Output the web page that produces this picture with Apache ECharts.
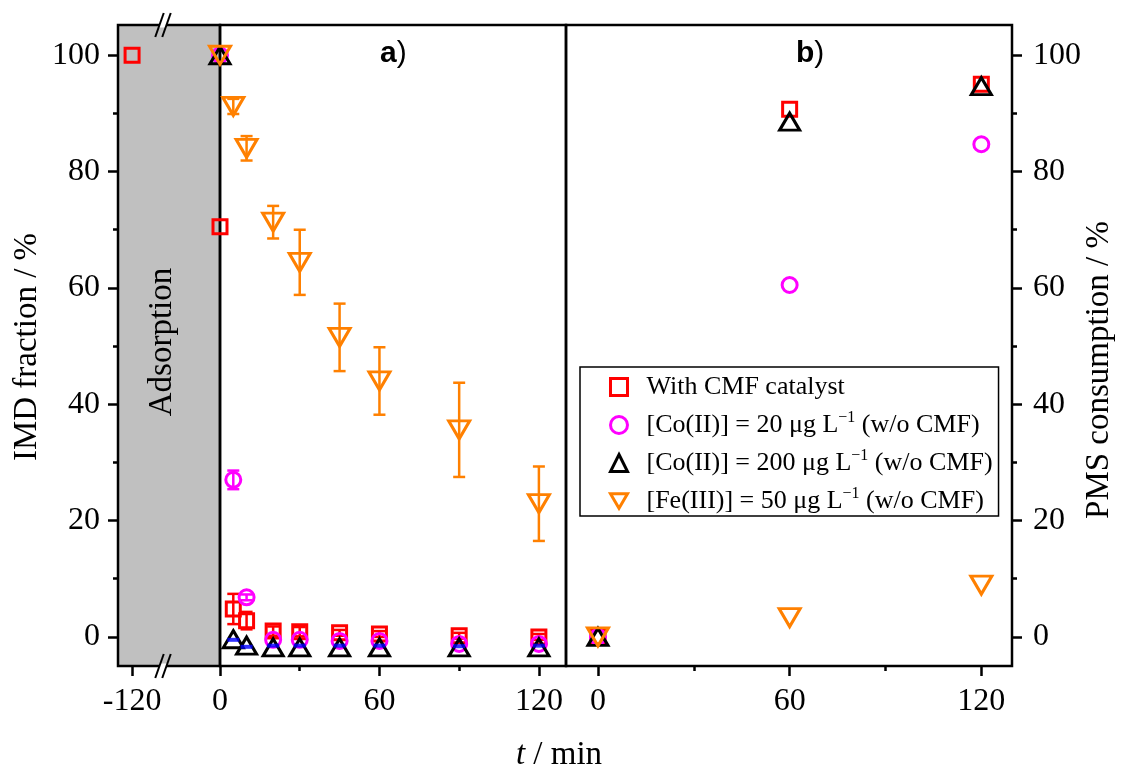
<!DOCTYPE html>
<html>
<head>
<meta charset="utf-8">
<script src="https://cdn.jsdelivr.net/npm/echarts@6/dist/echarts.min.js"></script>
<style>
  html, body { margin: 0; padding: 0; background: #ffffff; }
  #chart { width: 1123px; height: 772px; }
</style>
</head>
<body>
<div id="chart"></div>
<script>
// ---- time axes (min) ----
const adsorptionTime = [-120];
const reactionTime = [0, 5, 10, 20, 30, 45, 60, 90, 120];
const pmsTime = [0, 60, 120];

// ---- a) IMD fraction (%) ----
const cmfAdsorption = [100];
const cmfImd      = [70.5, 4.8, 2.8, 1.0, 0.9, 0.7, 0.5, 0.2, 0.0];
const cmfImdErr   = [0, 2.6, 1.5, 0.8, 0.8, 0.5, 0.5, 0.5, 0.5];
const co20Imd     = [100, 27.0, 6.8, -0.5, -0.5, -0.7, -0.7, -1.2, -1.2];
const co20ImdErr  = [0, 1.6, 0.5, 0, 0, 0, 0, 0, 0];
const co200Imd    = [100, -0.4, -1.5, -1.8, -1.8, -1.8, -1.8, -1.8, -1.8];
const fe50Imd     = [100, 91.2, 84.0, 71.3, 64.4, 51.5, 44.0, 35.6, 22.9];
const fe50ImdErr  = [0, 1.3, 2.1, 2.8, 5.6, 5.8, 5.8, 8.1, 6.4];
const blankTime   = [5, 10, 20, 30, 45, 60, 90, 120];
const blankImd    = [-0.5, -1.7, -1.5, -1.5, -1.5, -1.5, -1.6, -1.5];

// ---- b) PMS consumption (%) ----
const cmfPms   = [0, 90.7, 95.0];
const co20Pms  = [0, 60.5, 84.7];
const co200Pms = [0, 88.6, 94.7];
const fe50Pms  = [0, 3.3, 8.9];

// ---- ticks ----
const yTicks = [0, 20, 40, 60, 80, 100];
const yMinorTicks = [10, 30, 50, 70, 90];
const xTicks = [0, 60, 120];
const xMinorTicks = [30, 90];
const adsorptionTicks = [-120];

// ---- legend ----
const seriesNames = [
  'With CMF catalyst',
  '[Co(II)] = 20 μg L-1 (w/o CMF)',
  '[Co(II)] = 200 μg L-1 (w/o CMF)',
  '[Fe(III)] = 50 μg L-1 (w/o CMF)'
];
const legendLabels = [
  'With CMF catalyst',
  '[Co(II)] = 20 μg L{sup|\u22121} (w/o CMF)',
  '[Co(II)] = 200 μg L{sup|\u22121} (w/o CMF)',
  '[Fe(III)] = 50 μg L{sup|\u22121} (w/o CMF)'
];

const SERIF = 'Liberation Serif';
const SANS = 'Liberation Sans';
const AXW = 2.5;
const Y_MIN = -5, Y_MAX = 105.2;

const markers = [
  { symbol: 'rect', size: 14, rotate: 0, color: '#ff0000' },
  { symbol: 'circle', size: 15, rotate: 0, color: '#ff00ff' },
  { symbol: 'triangle', size: [20, 17], rotate: 0, color: '#000000' },
  { symbol: 'triangle', size: [21, 18], rotate: 180, color: '#ff8000', legendIcon: 'path://M0,0 L20,0 L10,17 Z' }
];

function zip(xs, ys) { return xs.map((x, i) => [x, ys[i]]); }
function errData(xs, ys, es) {
  return xs.map((x, i) => [x, ys[i] - es[i], ys[i] + es[i]]).filter((d, i) => es[i] > 0);
}

function scatter(k, xi, yi, data) {
  const m = markers[k];
  return {
    type: 'scatter', name: seriesNames[k], xAxisIndex: xi, yAxisIndex: yi, data,
    symbol: m.symbol, symbolSize: m.size, symbolRotate: m.rotate, clip: false, silent: true,
    itemStyle: { color: 'rgba(0,0,0,0)', borderColor: m.color, borderWidth: 3, opacity: 1 },
    emphasis: { disabled: true }
  };
}

function errorBars(color, data) {
  return {
    type: 'custom', xAxisIndex: 1, yAxisIndex: 2, data, clip: false, silent: true,
    encode: { x: 0, y: [1, 2] },
    renderItem(params, api) {
      const x = api.value(0);
      const lo = api.coord([x, api.value(1)]);
      const hi = api.coord([x, api.value(2)]);
      const cap = 6;
      const st = () => ({ stroke: color, lineWidth: 2.5 });
      return {
        type: 'group',
        children: [
          { type: 'line', shape: { x1: lo[0], y1: lo[1], x2: hi[0], y2: hi[1] }, style: st() },
          { type: 'line', shape: { x1: hi[0] - cap, y1: hi[1], x2: hi[0] + cap, y2: hi[1] }, style: st() },
          { type: 'line', shape: { x1: lo[0] - cap, y1: lo[1], x2: lo[0] + cap, y2: lo[1] }, style: st() }
        ]
      };
    }
  };
}

const labelStyle = { fontFamily: SERIF, fontSize: 32, color: '#000' };

function xAxis(grid, min, max, ticks, len, labels) {
  return {
    type: 'value', gridIndex: grid, min, max, position: 'bottom',
    axisLine: { show: false, onZero: false },
    splitLine: { show: false },
    axisTick: { show: true, customValues: ticks, length: len, inside: false, lineStyle: { color: '#000', width: AXW } },
    axisLabel: labels ? Object.assign({ show: true, customValues: ticks, margin: 20 }, labelStyle) : { show: false }
  };
}
function yAxis(grid, pos, ticks, len, labels, margin) {
  return {
    type: 'value', gridIndex: grid, min: Y_MIN, max: Y_MAX, position: pos,
    axisLine: { show: false, onZero: false },
    splitLine: { show: false },
    axisTick: ticks ? { show: true, customValues: ticks, length: len, lineStyle: { color: '#000', width: AXW } } : { show: false },
    axisLabel: labels ? Object.assign({ show: true, customValues: ticks, margin }, labelStyle) : { show: false }
  };
}

// break marks "//" on the top and bottom frame lines
function breakMarks(cy) {
  const k = 8.5 / 24, cx = [159.5, 166.5], h = 12;
  const els = [{
    type: 'polygon', z: 100, silent: true,
    shape: { points: [[cx[0] + 2.5 * k, cy - 2.5], [cx[1] + 2.5 * k, cy - 2.5], [cx[1] - 2.5 * k, cy + 2.5], [cx[0] - 2.5 * k, cy + 2.5]] },
    style: { fill: '#ffffff' }
  }];
  cx.forEach(c => els.push({
    type: 'line', z: 101, silent: true,
    shape: { x1: c - h * k, y1: cy + h, x2: c + h * k, y2: cy - h },
    style: { stroke: '#000', lineWidth: 2 }
  }));
  return els;
}

const gridBase = { show: true, top: 25, height: 641, borderColor: '#000', borderWidth: AXW, containLabel: false };

const series = [
  scatter(0, 0, 0, zip(adsorptionTime, cmfAdsorption)),
  errorBars('#ff0000', errData(reactionTime, cmfImd, cmfImdErr)),
  scatter(0, 1, 2, zip(reactionTime, cmfImd)),
  errorBars('#ff00ff', errData(reactionTime, co20Imd, co20ImdErr)),
  scatter(1, 1, 2, zip(reactionTime, co20Imd)),
  scatter(2, 1, 2, zip(reactionTime, co200Imd)),
  errorBars('#ff8000', errData(reactionTime, fe50Imd, fe50ImdErr)),
  scatter(3, 1, 2, zip(reactionTime, fe50Imd)),
  {
    type: 'scatter', name: 'blank', xAxisIndex: 1, yAxisIndex: 2, data: zip(blankTime, blankImd),
    symbol: 'rect', symbolSize: [12, 4], itemStyle: { color: '#0000ff' }, silent: true, clip: false
  },
  scatter(0, 3, 3, zip(pmsTime, cmfPms)),
  scatter(1, 3, 3, zip(pmsTime, co20Pms)),
  scatter(2, 3, 3, zip(pmsTime, co200Pms)),
  scatter(3, 3, 3, zip(pmsTime, fe50Pms))
];

const option = {
  animation: false,
  backgroundColor: '#ffffff',
  grid: [
    Object.assign({}, gridBase, { left: 118, width: 102, backgroundColor: '#c0c0c0' }),
    Object.assign({}, gridBase, { left: 220, width: 346, backgroundColor: 'transparent' }),
    Object.assign({}, gridBase, { left: 566, width: 446, backgroundColor: 'transparent' })
  ],
  xAxis: [
    xAxis(0, -125.3, -86.9, adsorptionTicks, 10, true),
    xAxis(1, 0, 130.2, xTicks, 10, true),
    xAxis(1, 0, 130.2, xMinorTicks, 5, false),
    xAxis(2, -10, 129.6, xTicks, 10, true),
    xAxis(2, -10, 129.6, xMinorTicks, 5, false)
  ],
  yAxis: [
    yAxis(0, 'left', yTicks, 10, true, 18),
    yAxis(0, 'left', yMinorTicks, 5, false),
    yAxis(1, 'left', null, 0, false),
    yAxis(2, 'right', yTicks, 10, true, 21),
    yAxis(2, 'right', yMinorTicks, 5, false)
  ],
  legend: {
    data: seriesNames.map((name, i) => (markers[i].legendIcon ? { name, icon: markers[i].legendIcon } : { name })),
    orient: 'vertical',
    left: 580, top: 367,
    padding: [5, 6, 0, 29],
    itemGap: 8,
    itemWidth: 17, itemHeight: 17,
    backgroundColor: '#ffffff',
    borderColor: '#000', borderWidth: 1.5,
    selectedMode: false,
    itemStyle: { borderWidth: 3 },
    formatter: name => '{gap| }' + legendLabels[seriesNames.indexOf(name)],
    textStyle: {
      fontFamily: SERIF, fontSize: 26, color: '#000', lineHeight: 30,
      rich: {
        gap: { width: 14, fontSize: 26, lineHeight: 30 },
        sup: { fontFamily: SERIF, fontSize: 16, lineHeight: 18, verticalAlign: 'top', color: '#000' }
      }
    }
  },
  graphic: [
    {
      type: 'text', x: 27, y: 347, rotation: Math.PI / 2, silent: true,
      style: { text: 'IMD fraction / %', font: '33px "Liberation Serif"', fill: '#000', textAlign: 'center', textVerticalAlign: 'middle' }
    },
    {
      type: 'text', x: 1099, y: 370, rotation: Math.PI / 2, silent: true,
      style: { text: 'PMS consumption / %', font: '33px "Liberation Serif"', fill: '#000', textAlign: 'center', textVerticalAlign: 'middle' }
    },
    {
      type: 'text', x: 559, y: 755, silent: true,
      style: {
        text: '{i|t} / min', textAlign: 'center', textVerticalAlign: 'middle', fill: '#000',
        font: '33px "Liberation Serif"',
        rich: { i: { fontFamily: SERIF, fontSize: 33, fontStyle: 'italic', fill: '#000' } }
      }
    },
    {
      type: 'text', x: 162, y: 342, rotation: Math.PI / 2, z: 50, silent: true,
      style: { text: 'Adsorption', font: '33px "Liberation Serif"', fill: '#000', textAlign: 'center', textVerticalAlign: 'middle' }
    },
    {
      type: 'text', x: 380, y: 54, silent: true, z: 50,
      style: {
        text: '{b|a}{p|)}', textAlign: 'left', textVerticalAlign: 'middle',
        rich: { b: { fontFamily: SANS, fontSize: 30, fontWeight: 'bold', fill: '#000' }, p: { fontFamily: SANS, fontSize: 30, fill: '#000' } }
      }
    },
    {
      type: 'text', x: 796, y: 54, silent: true, z: 50,
      style: {
        text: '{b|b}{p|)}', textAlign: 'left', textVerticalAlign: 'middle',
        rich: { b: { fontFamily: SANS, fontSize: 30, fontWeight: 'bold', fill: '#000' }, p: { fontFamily: SANS, fontSize: 30, fill: '#000' } }
      }
    }
  ].concat(breakMarks(25), breakMarks(666)),
  series
};

const chart = echarts.init(document.getElementById('chart'), null, { renderer: 'canvas' });
chart.setOption(option);
</script>
</body>
</html>
